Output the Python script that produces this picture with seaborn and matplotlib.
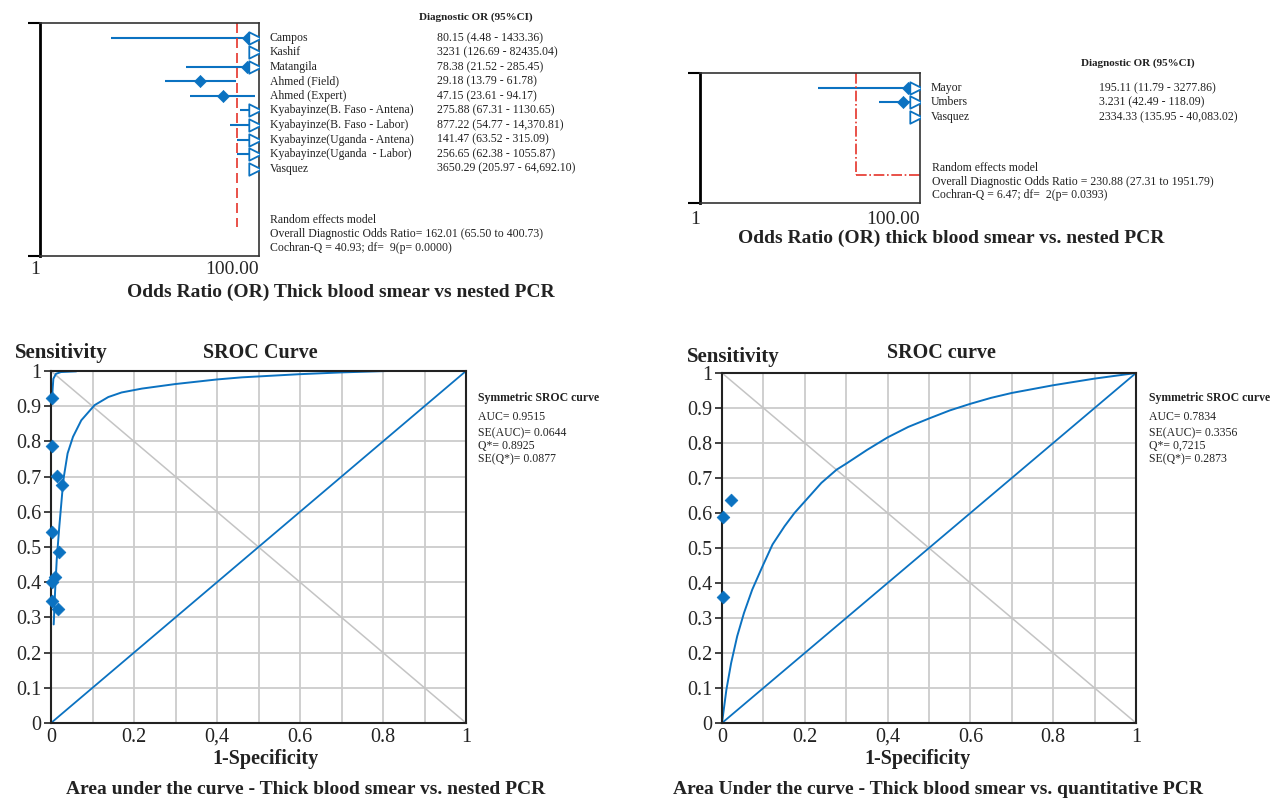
import numpy as np
import matplotlib
matplotlib.use("Agg")
import matplotlib.pyplot as plt
from matplotlib.ticker import NullLocator
import seaborn as sns

# ---- forest plot 1: thick blood smear vs nested PCR
studies_1 = ["Campos", "Kashif", "Matangila", "Ahmed (Field)", "Ahmed (Expert)",
             "Kyabayinze(B. Faso - Antena)", "Kyabayinze(B. Faso - Labor)",
             "Kyabayinze(Uganda - Antena)", "Kyabayinze(Uganda  - Labor)", "Vasquez"]
or_1 = [80.15, 3231, 78.38, 29.18, 47.15, 275.88, 877.22, 141.47, 256.65, 3650.29]
lo_1 = [4.48, 126.69, 21.52, 13.79, 23.61, 67.31, 54.77, 63.52, 62.38, 205.97]
hi_1 = [1433.36, 82435.04, 285.45, 61.78, 94.17, 1130.65, 14370.81, 315.09, 1055.87, 64692.10]
ci_txt_1 = ["80.15 (4.48 - 1433.36)", "3231 (126.69 - 82435.04)", "78.38 (21.52 - 285.45)",
            "29.18 (13.79 - 61.78)", "47.15 (23.61 - 94.17)", "275.88 (67.31 - 1130.65)",
            "877.22 (54.77 - 14,370.81)", "141.47 (63.52 - 315.09)", "256.65 (62.38 - 1055.87)",
            "3650.29 (205.97 - 64,692.10)"]
summary_1 = ["Random effects model",
             "Overall Diagnostic Odds Ratio= 162.01 (65.50 to 400.73)",
             "Cochran-Q = 40.93; df=  9(p= 0.0000)"]
pooled_pos_1 = 63      # where the dashed line is drawn on the axis

# ---- forest plot 2: thick blood smear vs nested PCR (second set)
studies_2 = ["Mayor", "Umbers", "Vasquez"]
or_2 = [78, 70, 2334.33]          # marker positions as drawn
lo_2 = [11.79, 42.49, 135.95]
hi_2 = [3277.86, 118.09, 40083.02]
ci_txt_2 = ["195.11 (11.79 - 3277.86)", "3.231 (42.49 - 118.09)", "2334.33 (135.95 - 40,083.02)"]
summary_2 = ["Random effects model",
             "Overall Diagnostic Odds Ratio = 230.88 (27.31 to 1951.79)",
             "Cochran-Q = 6.47; df=  2(p= 0.0393)"]
pooled_pos_2 = 26

# ---- SROC, thick blood smear vs nested PCR
sroc1_fpr = [0.0065, 0.0097, 0.0138, 0.020, 0.027, 0.031, 0.040, 0.053, 0.073, 0.105,
             0.138, 0.17, 0.219, 0.30, 0.40, 0.46, 0.60, 0.70, 0.81]
sroc1_tpr = [0.28, 0.37, 0.464, 0.558, 0.653, 0.70, 0.766, 0.813, 0.86, 0.903,
             0.926, 0.939, 0.95, 0.963, 0.976, 0.982, 0.991, 0.996, 1.0]
sroc1b_fpr = [0.003, 0.004, 0.0057, 0.012, 0.024, 0.061]
sroc1b_tpr = [0.925, 0.95, 0.978, 0.992, 0.997, 0.999]
pts1_fpr = [0.0024, 0.0024, 0.0154, 0.027, 0.0024, 0.0186, 0.0089, 0.0016, 0.0016, 0.0162]
pts1_tpr = [0.922, 0.788, 0.701, 0.675, 0.544, 0.485, 0.416, 0.401, 0.348, 0.324]
stats_1 = ["AUC= 0.9515", "SE(AUC)= 0.0644", "Q*= 0.8925", "SE(Q*)= 0.0877"]

# ---- SROC, thick blood smear vs quantitative PCR
sroc2_fpr = [0, 0.0106, 0.022, 0.0367, 0.053, 0.073, 0.098, 0.122, 0.151, 0.175, 0.2,
             0.24, 0.277, 0.3, 0.35, 0.4, 0.45, 0.5, 0.55, 0.6, 0.65, 0.7, 0.8, 0.9, 1.0]
sroc2_tpr = [0, 0.095, 0.171, 0.248, 0.314, 0.381, 0.448, 0.51, 0.562, 0.60, 0.633,
             0.686, 0.724, 0.741, 0.78, 0.816, 0.846, 0.87, 0.893, 0.912, 0.929, 0.943,
             0.965, 0.984, 1.0]
pts2_fpr = [0.0228, 0.0016, 0.0016]
pts2_tpr = [0.637, 0.588, 0.361]
stats_2 = ["AUC= 0.7834", "SE(AUC)= 0.3356", "Q*= 0,7215", "SE(Q*)= 0.2873"]

xt_pos = [0, 0.2, 0.4, 0.6, 0.8, 1.0]
xt_labels = ["0", "0.2", "0,4", "0.6", "0.8", "1"]
yt_labels = ["0", "0.1", "0.2", "0.3", "0.4", "0.5", "0.6", "0.7", "0.8", "0.9", "1"]

BLUE = "#0b72c1"
RED = "#e5332a"
XMAX = 100
ARROW_X = 92

sns.set_theme(style="white")
plt.rcParams["font.family"] = ["Liberation Serif", "DejaVu Serif"]
plt.rcParams["text.color"] = "#222222"

fig = plt.figure(figsize=(12.77, 8.01), dpi=100)


def forest(ax, names, pts, lo, hi, ci_txt, pooled, n_rows_box, line_end, dashstyle, hline, lpad):
    rows = np.arange(len(names))
    top, bottom = -1.03, n_rows_box
    hi_c = [min(h, ARROW_X) for h in hi]
    lo_c = [min(l, ARROW_X) for l in lo]
    ax.hlines(rows, lo_c, hi_c, color=BLUE, lw=1.5)
    shown = [(p, r) for p, r in zip(pts, rows) if p < XMAX]
    sns.scatterplot(x=[p for p, r in shown], y=[r for p, r in shown], ax=ax, marker="D",
                    s=38, color=BLUE, edgecolor=BLUE, zorder=4)
    arr = [r for h, r in zip(hi, rows) if h > XMAX]
    ax.scatter([ARROW_X] * len(arr), arr, marker=">", s=80, facecolor="white",
               edgecolor=BLUE, lw=1.3, zorder=5)
    ax.plot([pooled, pooled], [top, line_end], color=RED, lw=1.2, ls=dashstyle)
    if hline:
        ax.plot([pooled, XMAX], [line_end, line_end], color=RED, lw=1.2, ls=dashstyle)

    ax.set_xscale("log")
    ax.set_xlim(1, XMAX)
    ax.set_ylim(bottom, top)
    ax.xaxis.set_minor_locator(NullLocator())
    ax.set_xticks([1, XMAX])
    ax.set_xticklabels(["1", "100.00"], fontsize=14)
    for lbl in ax.get_xticklabels():
        lbl.set_ha("right")
    ax.set_yticks([top, bottom])
    ax.set_yticklabels([])
    ax.tick_params(axis="y", length=9, width=1.5, color="black", left=True)
    ax.tick_params(axis="x", length=0, pad=lpad)
    for s in ["top", "bottom", "right"]:
        ax.spines[s].set_color("#333333")
        ax.spines[s].set_linewidth(1.2)
    ax.spines["left"].set_color("black")
    ax.spines["left"].set_linewidth(2)

    tr = ax.get_yaxis_transform()
    for r, n, t in zip(rows, names, ci_txt):
        ax.text(1.048, r, n, transform=tr, fontsize=8.5, va="center", clip_on=False)
        ax.text(1.815, r, t, transform=tr, fontsize=8.5, va="center", clip_on=False)
    return tr


ax1 = fig.add_axes([40 / 1277, 1 - 256 / 801, 219 / 1277, 233 / 801])
tr = forest(ax1, studies_1, or_1, lo_1, hi_1, ci_txt_1, pooled_pos_1,
            15.03, 13.0, (0, (6, 3)), False, 3.5)
ax1.text(1.73, -1.45, "Diagnostic OR (95%CI)", transform=tr, fontsize=8,
         fontweight="bold", va="center", clip_on=False)
for i, s in enumerate(summary_1):
    ax1.text(1.048, 12.55 + 0.97 * i, s, transform=tr, fontsize=8.5, va="center", clip_on=False)

ax2 = fig.add_axes([700 / 1277, 1 - 203 / 801, 220 / 1277, 130 / 801])
tr = forest(ax2, studies_2, or_2, lo_2, hi_2, ci_txt_2, pooled_pos_2,
            7.93, 6.0, "-.", True, 6)
ax2.text(1.73, -1.72, "Diagnostic OR (95%CI)", transform=tr, fontsize=8,
         fontweight="bold", va="center", clip_on=False)
for i, s in enumerate(summary_2):
    ax2.text(1.055, 5.52 + 0.93 * i, s, transform=tr, fontsize=8.5, va="center", clip_on=False)

fig.text(341 / 1277, 1 - 292 / 801, "Odds Ratio (OR) Thick blood smear vs nested PCR",
         ha="center", va="center", fontsize=14, fontweight="bold")
fig.text(951 / 1277, 1 - 238 / 801, "Odds Ratio (OR) thick blood smear vs. nested PCR",
         ha="center", va="center", fontsize=14, fontweight="bold")


def sroc(ax, curves, fx, fy, stats, tx):
    ax.set_xlim(0, 1)
    ax.set_ylim(0, 1)
    ax.set_xticks(np.arange(0, 1.01, 0.1))
    ax.set_xticklabels([])
    xtr = ax.get_xaxis_transform()
    h = ax.get_position().height * 801
    for x, s in zip(xt_pos, xt_labels):
        ax.text(x, -19 / h, s, transform=xtr, ha="center", va="baseline", fontsize=14.5)
    ax.set_yticks(np.arange(0, 1.01, 0.1))
    ax.set_yticklabels(yt_labels, fontsize=14.5)
    ax.grid(True, color="#cccccc", lw=1.3)
    ax.set_axisbelow(True)
    ax.tick_params(axis="y", length=5, width=1.2, color="#222222", left=True, pad=2)
    ax.tick_params(axis="x", length=0)
    for s in ax.spines.values():
        s.set_color("#222222")
        s.set_linewidth(1.5)
    ax.plot([0, 1], [1, 0], color="#c4c4c4", lw=1.1)
    ax.plot([0, 1], [0, 1], color=BLUE, lw=1.3)
    for cx, cy in curves:
        sns.lineplot(x=cx, y=cy, ax=ax, sort=False, estimator=None, color=BLUE, lw=1.4)
    sns.scatterplot(x=fx, y=fy, ax=ax, marker="D", s=42, color=BLUE, edgecolor=BLUE,
                    zorder=5, clip_on=False)
    ax.set_xlabel("")
    ax.set_ylabel("")
    fig.text(tx, 1 - 398 / 801, "Symmetric SROC curve", fontsize=8.5, fontweight="bold", va="center")
    for y, s in zip([417, 433, 446, 459], stats):
        fig.text(tx, 1 - y / 801, s, fontsize=8.5, va="center")


ax3 = fig.add_axes([51 / 1277, 1 - 723 / 801, 415 / 1277, 352 / 801])
sroc(ax3, [(sroc1_fpr, sroc1_tpr), (sroc1b_fpr, sroc1b_tpr)], pts1_fpr, pts1_tpr, stats_1, 478 / 1277)
ax4 = fig.add_axes([722 / 1277, 1 - 723 / 801, 414 / 1277, 350 / 801])
sroc(ax4, [(sroc2_fpr, sroc2_tpr)], pts2_fpr, pts2_tpr, stats_2, 1149 / 1277)

for x, y, s, ha, fs in [(15, 353, "Sensitivity", "left", 15), (260, 353, "SROC Curve", "center", 14.5),
                        (687, 357, "Sensitivity", "left", 15), (941, 353, "SROC curve", "center", 14.5),
                        (266, 759, "1-Specificity", "center", 14.5), (918, 759, "1-Specificity", "center", 14.5)]:
    fig.text(x / 1277, 1 - y / 801, s, ha=ha, va="center", fontsize=fs, fontweight="bold")

fig.text(306 / 1277, 1 - 789 / 801, "Area under the curve - Thick blood smear vs. nested PCR",
         ha="center", va="center", fontsize=14, fontweight="bold")
fig.text(938 / 1277, 1 - 789 / 801, "Area Under the curve - Thick blood smear vs. quantitative PCR",
         ha="center", va="center", fontsize=14, fontweight="bold")

fig.savefig("out.png", dpi=100, facecolor="white")
